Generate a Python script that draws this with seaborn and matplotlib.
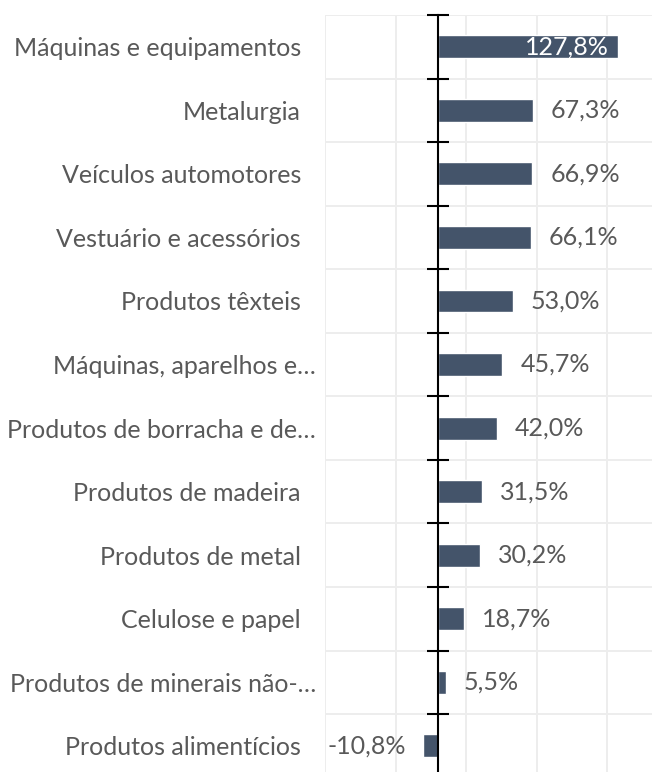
import matplotlib
matplotlib.use("Agg")
import matplotlib.pyplot as plt
import matplotlib.transforms as mtransforms
import seaborn as sns
import numpy as np
from matplotlib.ticker import FixedLocator, NullFormatter

categories = ["Máquinas e equipamentos", "Metalurgia", "Veículos automotores",
              "Vestuário e acessórios", "Produtos têxteis", "Máquinas, aparelhos e…",
              "Produtos de borracha e de…", "Produtos de madeira", "Produtos de metal",
              "Celulose e papel", "Produtos de minerais não-…", "Produtos alimentícios"]
values = [127.8, 67.3, 66.9, 66.1, 53.0, 45.7, 42.0, 31.5, 30.2, 18.7, 5.5, -10.8]
labels = [f"{v:.1f}%".replace(".", ",") for v in values]

sns.set_theme(style="white")
plt.rcParams['font.family'] = ['Lato', 'DejaVu Sans']

BAR = "#44546A"
TXT = "#595959"
FS = 18.0

fig = plt.figure(figsize=(6.52, 7.72), dpi=100)
ax = fig.add_axes([325/652, -5.6/772, (652-325)/652, (777.6-15)/772])
sns.barplot(x=values, y=categories, orient="h", color=BAR, width=0.36,
            saturation=1, ax=ax)

n = len(categories)
ax.set_xlim(-80, 151.8)
ax.set_ylim(n - 0.5, -0.5)
ax.set_xlabel("")
ax.set_ylabel("")

for s in ["top", "right", "bottom"]:
    ax.spines[s].set_visible(False)
ax.spines["left"].set_position(("data", 0))
ax.spines["left"].set_color("black")
ax.spines["left"].set_linewidth(1.5)

ax.set_xticks([-80, -30, 20, 70, 120])
ax.xaxis.set_major_formatter(NullFormatter())
ax.tick_params(axis="x", length=0)
ax.yaxis.set_minor_locator(FixedLocator(np.arange(-0.5, n, 1.0)))
ax.tick_params(axis="y", which="major", length=0, pad=98.6, labelsize=FS, labelcolor=TXT)
ax.tick_params(axis="y", which="minor", length=16, width=1.5, direction="inout", color="black", left=True)
ax.grid(axis="x", which="major", color="#EDEDED", linewidth=1.4)
ax.grid(axis="y", which="minor", color="#EDEDED", linewidth=1.4)
ax.grid(axis="y", which="major", visible=False)
ax.set_axisbelow(True)

# truncated labels sit a little further right, as in the reference
shift = mtransforms.ScaledTranslation(15/100, 0, fig.dpi_scale_trans)
for lab in ax.get_yticklabels():
    if lab.get_text().endswith("…"):
        lab.set_transform(lab.get_transform() + shift)

for i, (v, lab) in enumerate(zip(values, labels)):
    if i == 0:
        ax.annotate(lab, (v, i), xytext=(-9, 0), textcoords="offset pixels",
                    ha="right", va="center", color="white", fontsize=FS)
    elif v < 0:
        ax.annotate(lab, (v, i), xytext=(-17, 0), textcoords="offset pixels",
                    ha="right", va="center", color=TXT, fontsize=FS)
    else:
        ax.annotate(lab, (v, i), xytext=(18, 0), textcoords="offset pixels",
                    ha="left", va="center", color=TXT, fontsize=FS)

fig.savefig("out.png", dpi=100)
